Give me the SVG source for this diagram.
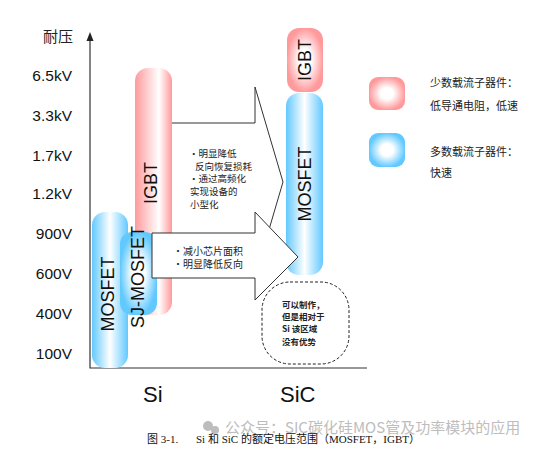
<svg xmlns="http://www.w3.org/2000/svg" width="551" height="451" viewBox="0 0 551 451">
<style>
.lbl{font-family:"Liberation Sans",Arial,sans-serif;font-size:15.5px;fill:#111;text-anchor:end}
.vt{font-family:"Liberation Sans",Arial,sans-serif;font-size:18px;fill:#111;text-anchor:middle}
.cj{font-family:"Noto Sans CJK SC",sans-serif;fill:#222}
.axis{font-family:"Liberation Sans",Arial,sans-serif;font-size:22px;fill:#111}
.arrow{fill:#fff;stroke:#333;stroke-width:1}
</style>
<defs>
<radialGradient id="gp" cx="0.5" cy="0.5" r="0.5">
<stop offset="0" stop-color="#fff"/>
<stop offset="0.35" stop-color="#fff"/>
<stop offset="1" stop-color="#ff9a9c"/>
</radialGradient>
<radialGradient id="gb" cx="0.5" cy="0.5" r="0.5">
<stop offset="0" stop-color="#fff"/>
<stop offset="0.35" stop-color="#fff"/>
<stop offset="1" stop-color="#62c9ff"/>
</radialGradient>
<linearGradient id="lp" x1="0" y1="0" x2="1" y2="0">
<stop offset="0" stop-color="#ff9a9c"/>
<stop offset="0.65" stop-color="#fff"/>
<stop offset="1" stop-color="#ff9a9c"/>
</linearGradient>
<linearGradient id="lb" x1="0" y1="0" x2="1" y2="0">
<stop offset="0" stop-color="#62c9ff"/>
<stop offset="0.5" stop-color="#fff"/>
<stop offset="1" stop-color="#62c9ff"/>
</linearGradient>
</defs>

<g id="axes" stroke="#333" stroke-width="1.2" fill="none">
<path d="M90,38 L90,368 L367,368"/>
<path d="M86.5,41 L90,32 L93.5,41 Z" fill="#222" stroke="none"/>
</g>
<g id="y-labels">
<text x="73" y="42" class="cj" font-size="15" text-anchor="end">耐压</text>
<text x="72" y="81" class="lbl">6.5kV</text>
<text x="72" y="121" class="lbl">3.3kV</text>
<text x="72" y="161" class="lbl">1.7kV</text>
<text x="72" y="199" class="lbl">1.2kV</text>
<text x="72" y="239" class="lbl">900V</text>
<text x="72" y="279" class="lbl">600V</text>
<text x="72" y="319" class="lbl">400V</text>
<text x="72" y="359" class="lbl">100V</text>
</g>

<g id="connectors">
<path id="arrow-big" class="arrow" d="M172,123 L255,123 L255,87 L283,182 L255,277 L255,241 L172,241"/>
</g>

<g id="si-igbt">
<rect x="135" y="68" width="37" height="247" rx="13" fill="url(#lp)"/>
<text class="vt" font-size="17" transform="translate(151,183) rotate(-90)" dy="0.36em">IGBT</text>
</g>
<g id="si-mosfet">
<rect x="92" y="212" width="36" height="156" rx="13" fill="url(#lb)"/>
<text class="vt" transform="translate(108,294) rotate(-90)" dy="0.36em">MOSFET</text>
</g>
<g id="si-sj-mosfet">
<rect x="120" y="232" width="37" height="83" rx="12" fill="url(#gb)"/>
<text class="vt" transform="translate(138,277) rotate(-90)" dy="0.36em">SJ-MOSFET</text>
</g>

<g id="sic-igbt">
<rect x="287" y="28" width="36" height="64" rx="12" fill="url(#gp)"/>
<text class="vt" font-size="19" transform="translate(305,60) rotate(-90)" dy="0.36em">IGBT</text>
</g>
<g id="sic-mosfet">
<rect x="286" y="93" width="37" height="182" rx="13" fill="url(#lb)"/>
<text class="vt" font-size="18" transform="translate(305,184) rotate(-90)" dy="0.36em">MOSFET</text>
</g>

<g id="connectors-2">
<path id="arrow-small" class="arrow" d="M152,233 L255,233 L255,212 L298,257 L255,300 L255,278 L152,278 Z"/>
</g>

<g id="big-arrow-text" class="cj" font-size="9.5">
<text x="189" y="157">·明显降低</text>
<text x="195" y="169.5">反向恢复损耗</text>
<text x="189" y="182">·通过高频化</text>
<text x="190" y="195">实现设备的</text>
<text x="190" y="208">小型化</text>
</g>
<g id="small-arrow-text" class="cj" font-size="10">
<text x="173" y="255">·减小芯片面积</text>
<text x="173" y="268">·明显降低反向</text>
</g>

<g id="note">
<rect x="262" y="282" width="87" height="82" rx="28" fill="none" stroke="#222" stroke-width="1" stroke-dasharray="3,2"/>
<g class="cj" font-size="8.5" font-weight="bold">
<text x="282" y="308">可以制作，</text>
<text x="282" y="320">但是相对于</text>
<text x="282" y="332">Si 该区域</text>
<text x="282" y="345">没有优势</text>
</g>
</g>

<g id="legend-minority">
<rect x="369" y="77" width="36" height="33" rx="9" fill="url(#gp)"/>
<text x="430" y="87" class="cj" font-size="11">少数载流子器件：</text>
<text x="430" y="110" class="cj" font-size="11">低导通电阻，低速</text>
</g>
<g id="legend-majority">
<rect x="369" y="133" width="36" height="34" rx="9" fill="url(#gb)"/>
<text x="430" y="156" class="cj" font-size="11">多数载流子器件：</text>
<text x="430" y="177" class="cj" font-size="11">快速</text>
</g>

<text x="143" y="402" class="axis">Si</text>
<text x="280" y="402" class="axis">SiC</text>

<g id="watermark" fill="#bdbdbd">
<circle cx="208" cy="426" r="5"/>
<circle cx="215" cy="430" r="4"/>
<text x="225" y="433" font-family="Noto Sans CJK SC,sans-serif" font-size="15">公众号：SIC碳化硅MOS管及功率模块的应用</text>
</g>
<g id="caption" font-family="Liberation Serif,Noto Sans CJK SC,serif" font-size="11" fill="#111">
<text x="147" y="443">图 3-1.</text>
<text x="196" y="443">Si 和 SiC 的额定电压范围（MOSFET，IGBT）</text>
</g>
</svg>
